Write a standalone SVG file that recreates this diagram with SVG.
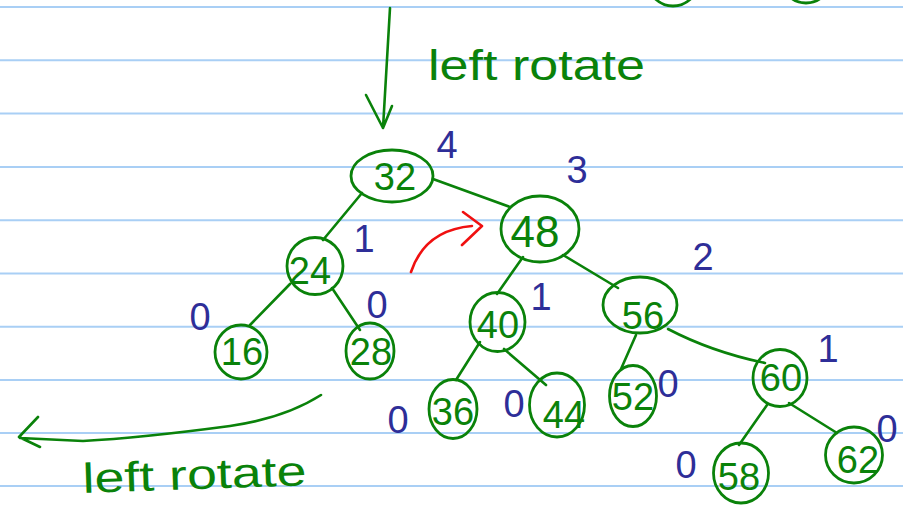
<svg xmlns="http://www.w3.org/2000/svg" width="903" height="506" viewBox="0 0 903 506">
  <style>
    .rule { stroke: #a9cff5; stroke-width: 2; }
    .node ellipse { fill: none; stroke: #0a820a; stroke-width: 2.8; }
    .node text { font-family: "Liberation Sans", "DejaVu Sans", sans-serif; font-size: 38px; fill: #0a820a; text-anchor: middle; }
    .edge { fill: none; stroke: #0a820a; stroke-width: 2.6; stroke-linecap: round; stroke-linejoin: round; }
    .ht { font-family: "Liberation Sans", "DejaVu Sans", sans-serif; font-size: 38px; fill: #2e2e98; text-anchor: middle; }
    .note { font-family: "Liberation Sans", "DejaVu Sans", sans-serif; font-size: 42px; fill: #0a820a; }
    .red { fill: none; stroke: #f01010; stroke-width: 2.6; stroke-linecap: round; stroke-linejoin: round; }
  </style>

  <rect width="903" height="506" fill="#ffffff"/>

  <!-- ruled paper -->
  <g id="rules">
    <line class="rule" x1="0" y1="7" x2="903" y2="7"/>
    <line class="rule" x1="0" y1="60.3" x2="903" y2="60.3"/>
    <line class="rule" x1="0" y1="113.6" x2="903" y2="113.6"/>
    <line class="rule" x1="0" y1="166.9" x2="903" y2="166.9"/>
    <line class="rule" x1="0" y1="220.2" x2="903" y2="220.2"/>
    <line class="rule" x1="0" y1="273.5" x2="903" y2="273.5"/>
    <line class="rule" x1="0" y1="326.8" x2="903" y2="326.8"/>
    <line class="rule" x1="0" y1="380" x2="903" y2="380"/>
    <line class="rule" x1="0" y1="433" x2="903" y2="433"/>
    <line class="rule" x1="0" y1="486" x2="903" y2="486"/>
  </g>

  <!-- partial circles from the row above -->
  <g id="top-partials" class="node">
    <ellipse cx="673" cy="-16" rx="24" ry="22"/>
    <ellipse cx="806" cy="-20" rx="24" ry="23"/>
  </g>

  <!-- tree edges and arrows -->
  <g id="connectors">
    <path class="edge" d="M362 193 L323 240"/>
    <path class="edge" d="M433 179 L510 207"/>
    <path class="edge" d="M290 284 L250 325"/>
    <path class="edge" d="M332 288 L360 330"/>
    <path class="edge" d="M523 257 L497 294"/>
    <path class="edge" d="M563 255 L618 288"/>
    <path class="edge" d="M480 342 L456 380"/>
    <path class="edge" d="M504 349 L546 385"/>
    <path class="edge" d="M636 335 L621 369"/>
    <path class="edge" d="M668 329 Q712 352 765 363"/>
    <path class="edge" d="M767 405 L739 445"/>
    <path class="edge" d="M789 403 L837 433"/>

    <!-- rotate arrows -->
    <path class="edge" d="M390 8 L383 128 M366 95 L383 128 L392 106"/>
    <path class="edge" d="M321 395 Q285 418 230 426 Q140 438 83 441 L20 438 M38 417 L19 437 L40 447"/>
  </g>

  <!-- red pivot arrow -->
  <g id="pivot-arrow">
    <path class="red" d="M411 272 Q425 230 472 226 M463 212 L482 226 L462 245"/>
  </g>

  <!-- nodes -->
  <g id="n32" class="node"><ellipse cx="392" cy="176" rx="41" ry="26"/><text x="395" y="190">32</text></g>
  <g id="n48" class="node"><ellipse cx="540" cy="229" rx="39" ry="33"/><text x="535" y="247" style="font-size:44px">48</text></g>
  <g id="n24" class="node"><ellipse cx="315" cy="266" rx="28" ry="28.5"/><text x="310" y="284">24</text></g>
  <g id="n16" class="node"><ellipse cx="241" cy="352" rx="26" ry="27"/><text x="242" y="365">16</text></g>
  <g id="n28" class="node"><ellipse cx="370" cy="351" rx="24" ry="28"/><text x="371" y="365">28</text></g>
  <g id="n40" class="node"><ellipse cx="497.5" cy="322" rx="27.5" ry="29.5"/><text x="498" y="338">40</text></g>
  <g id="n56" class="node"><ellipse cx="640" cy="305" rx="37" ry="28"/><text x="643" y="329">56</text></g>
  <g id="n36" class="node"><ellipse cx="453" cy="409" rx="24" ry="29.5"/><text x="453" y="425">36</text></g>
  <g id="n44" class="node"><ellipse cx="557" cy="405" rx="27.5" ry="32"/><text x="564" y="428">44</text></g>
  <g id="n52" class="node"><ellipse cx="633" cy="396" rx="23.5" ry="30.5"/><text x="633" y="410">52</text></g>
  <g id="n60" class="node"><ellipse cx="780" cy="378" rx="27" ry="28.5"/><text x="781" y="391">60</text></g>
  <g id="n58" class="node"><ellipse cx="741" cy="473" rx="27.5" ry="30"/><text x="739" y="490">58</text></g>
  <g id="n62" class="node"><ellipse cx="854" cy="455" rx="28.5" ry="28"/><text x="858" y="473">62</text></g>

  <!-- subtree heights -->
  <g id="heights">
    <text class="ht" x="447" y="158">4</text>
    <text class="ht" x="577" y="183">3</text>
    <text class="ht" x="364" y="252">1</text>
    <text class="ht" x="377" y="318">0</text>
    <text class="ht" x="200" y="330">0</text>
    <text class="ht" x="541" y="310">1</text>
    <text class="ht" x="703" y="270">2</text>
    <text class="ht" x="398" y="433">0</text>
    <text class="ht" x="514" y="417">0</text>
    <text class="ht" x="668" y="397">0</text>
    <text class="ht" x="828" y="362">1</text>
    <text class="ht" x="686" y="478">0</text>
    <text class="ht" x="887" y="442">0</text>
  </g>

  <!-- annotations -->
  <g id="labels">
    <text class="note" x="428" y="80" textLength="217" lengthAdjust="spacingAndGlyphs">left rotate</text>
    <text class="note" x="83" y="493" textLength="224" lengthAdjust="spacingAndGlyphs" transform="rotate(-2 83 493)">left rotate</text>
  </g>
</svg>
